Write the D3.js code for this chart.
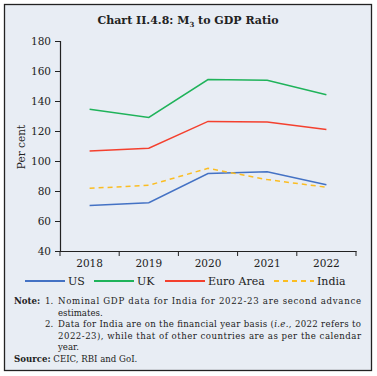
<!DOCTYPE html>
<html>
<head>
<meta charset="utf-8">
<script src="https://cdn.jsdelivr.net/npm/d3@7"></script>
<style>
  body { margin: 0; background: #fff; }
  text { font-family: "DejaVu Serif", "Liberation Serif", serif; fill: #222; }
</style>
</head>
<body>
<div id="chart"></div>
<script>
// data
const years = ["2018", "2019", "2020", "2021", "2022"];
const us = [70.4, 72.2, 91.6, 92.9, 84.2];
const uk = [134.5, 129.0, 154.3, 153.8, 144.2];
const euroArea = [106.7, 108.5, 126.4, 126.0, 121.0];
const india = [81.8, 83.8, 95.1, 87.6, 82.5];
const yTicks = [40, 60, 80, 100, 120, 140, 160, 180];

const series = [
  {name: "US", values: us, color: "#4472c4", dash: null},
  {name: "UK", values: uk, color: "#1fb35a", dash: null},
  {name: "Euro Area", values: euroArea, color: "#f4402e", dash: null},
  {name: "India", values: india, color: "#fbbd22", dash: "5,4"}
];

const W = 377, H = 376;
const margin = {top: 41, right: 21, bottom: 125, left: 60},
    width = W - margin.left - margin.right,
    height = H - margin.top - margin.bottom;

const root = d3.select("#chart").append("svg")
    .attr("width", W)
    .attr("height", H);

// panel background + frame
root.append("rect")
    .attr("x", 4.5).attr("y", 4.5)
    .attr("width", 367).attr("height", 366)
    .attr("fill", "#e8edf4")
    .attr("stroke", "#222")
    .attr("stroke-width", 1.3);

// title
const title = root.append("text")
    .attr("x", 188).attr("y", 24)
    .attr("text-anchor", "middle")
    .style("font-weight", "bold")
    .style("font-size", "11px");
title.append("tspan").text("Chart II.4.8: M");
title.append("tspan").attr("dy", 3).style("font-size", "7px").text("3");
title.append("tspan").attr("dy", -3).text(" to GDP Ratio");

const svg = root.append("g")
    .attr("transform", `translate(${margin.left},${margin.top})`);

// scales
const x = d3.scaleBand().domain(years).range([0, 296]).padding(0);
const y = d3.scaleLinear().domain([40, 180]).range([height, 0]);

// axes
const yAxis = svg.append("g")
    .call(d3.axisLeft(y).tickValues(yTicks).tickSize(5).tickFormat(d3.format("d")));
yAxis.selectAll("text").style("font-size", "10.5px").attr("dx", -1);

const xAxis = svg.append("g")
    .attr("transform", `translate(0,${height})`)
    .call(d3.axisBottom(x).tickSize(0));
xAxis.selectAll("text").style("font-size", "10.5px").attr("dy", "1.25em");
// ticks at band boundaries
xAxis.selectAll(".bound")
    .data(years.concat(["end"]))
    .enter().append("line")
    .attr("x1", (d, i) => i * x.bandwidth())
    .attr("x2", (d, i) => i * x.bandwidth())
    .attr("y1", 0).attr("y2", 5)
    .attr("stroke", "#222");
svg.selectAll(".domain").attr("stroke", "#222").attr("stroke-width", 1.2);
svg.selectAll(".tick line").attr("stroke", "#222");

// y label
svg.append("text")
    .attr("transform", "rotate(-90)")
    .attr("x", -(147 - margin.top))
    .attr("y", -35)
    .attr("text-anchor", "middle")
    .style("font-size", "10.5px")
    .text("Per cent");

// lines
const line = d3.line()
    .x((d, i) => x(years[i]) + x.bandwidth() / 2)
    .y(d => y(d));

series.forEach(s => {
  svg.append("path")
      .datum(s.values)
      .attr("fill", "none")
      .attr("stroke", s.color)
      .attr("stroke-width", 1.5)
      .attr("stroke-dasharray", s.dash)
      .attr("d", line);
});

// legend
const legendX = [25, 94, 165, 274];
const legend = root.append("g").attr("transform", "translate(0,281)");
series.forEach((s, i) => {
  legend.append("line")
      .attr("x1", legendX[i]).attr("x2", legendX[i] + 40)
      .attr("y1", 0).attr("y2", 0)
      .attr("stroke", s.color)
      .attr("stroke-width", 2)
      .attr("stroke-dasharray", s.dash);
  legend.append("text")
      .attr("x", legendX[i] + 43).attr("y", 4)
      .style("font-size", "11px")
      .text(s.name);
});

// notes
const notes = root.append("g").style("font-size", "8.6px");
const noteLines = [
  {x: 58, y: 304, t: "Nominal GDP data for India for 2022-23 are second advance", fit: true},
  {x: 58, y: 315.5, t: "estimates.", fit: false},
  {x: 58, y: 327, t: "Data for India are on the financial year basis (i.e., 2022 refers to", fit: true},
  {x: 58, y: 338.5, t: "2022-23), while that of other countries are as per the calendar", fit: true},
  {x: 58, y: 350, t: "year.", fit: false}
];
notes.append("text").attr("x", 14).attr("y", 304).style("font-weight", "bold").text("Note:");
notes.append("text").attr("x", 45).attr("y", 304).text("1.");
notes.append("text").attr("x", 45).attr("y", 327).text("2.");
noteLines.forEach(l => {
  const t = notes.append("text").attr("x", l.x).attr("y", l.y);
  if (l.fit) t.attr("textLength", 303).attr("lengthAdjust", "spacing");
  if (l.t.indexOf("i.e.") >= 0) {
    const parts = l.t.split("i.e.");
    t.append("tspan").text(parts[0]);
    t.append("tspan").style("font-style", "italic").text("i.e.");
    t.append("tspan").text(parts[1]);
  } else {
    t.text(l.t);
  }
});
const src = notes.append("text").attr("x", 14).attr("y", 362);
src.append("tspan").style("font-weight", "bold").text("Source:");
src.append("tspan").text(" CEIC, RBI and GoI.");
</script>
</body>
</html>
